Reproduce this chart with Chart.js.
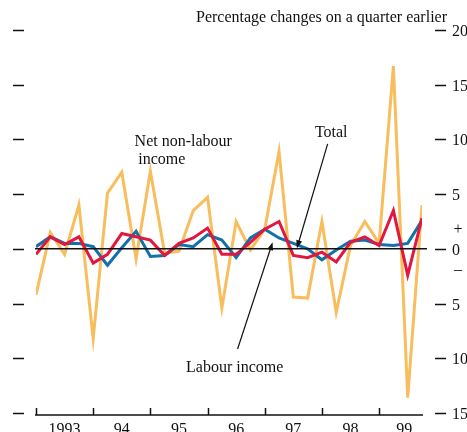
<!DOCTYPE html>
<html>
<head>
<meta charset="utf-8">
<title>Income growth</title>
<script src="https://cdn.jsdelivr.net/npm/chart.js@4.4.1/dist/chart.umd.min.js"></script>
<style>
	html, body { margin: 0; padding: 0; background: #fff; }
	#wrap { position: relative; width: 467px; height: 432px; }
</style>
</head>
<body>
<div id="wrap"><canvas id="chart"></canvas></div>
<script>
'use strict';

// quarterly, 1993 Q1 to 1999 Q4
const years = [ '1993', '94', '95', '96', '97', '98', '99' ];
const yTicks = [ 20, 15, 10, 5, 0, -5, -10, -15 ];

const nonLabour = [ -4.2, 1.5, -0.5, 4.0, -8.2, 5.1, 7.0, -0.9, 7.1, -0.4, -0.2, 3.5, 4.7, -5.4,
	2.5, -0.1, 1.8, 8.9, -4.4, -4.5, 2.5, -5.8, 0.3, 2.5, 0.5, 16.7, -13.6, 4.0 ];
const labour = [ 0.2, 1.1, 0.5, 0.5, 0.2, -1.5, 0.1, 1.6, -0.7, -0.6, 0.4, 0.2, 1.3, 0.8,
	-0.8, 1.0, 1.8, 1.0, 0.5, 0.0, -1.0, -0.1, 0.7, 0.8, 0.4, 0.3, 0.5, 2.6 ];
const total = [ -0.5, 1.1, 0.4, 1.1, -1.3, -0.5, 1.4, 1.1, 0.8, -0.6, 0.5, 1.0, 1.9, -0.5,
	-0.5, 0.6, 1.8, 2.5, -0.6, -0.8, -0.3, -1.2, 0.6, 1.1, 0.3, 3.5, -2.4, 2.8 ];

// text labels, placed in data units (quarter index, per cent)
const notes = [
	{ text: 'Net non-labour', x: 10.3, y: 9.75 },
	{ text: 'income', x: 8.8, y: 8.1 },
	{ text: 'Total', x: 20.65, y: 10.6 },
	{ text: 'Labour income', x: 13.9, y: -10.85 },
];
const arrows = [
	{ from: [ 20.4, 9.6 ], to: [ 18.25, 0.05 ] },
	{ from: [ 14.1, -9.15 ], to: [ 16.55, 0.6 ] },
];

const FONT = '16px "Liberation Serif", "DejaVu Serif", serif';

function points( values ) {
	return values.map( ( v, i ) => ( { x: i, y: v } ) );
}

const bulletinAxes = {
	id: 'bulletinAxes',
	afterDatasetsDraw: function ( chart ) {
		const ctx = chart.ctx;
		const xs = chart.scales.x;
		const ys = chart.scales.y;
		const area = chart.chartArea;
		const last = nonLabour.length - 1;

		ctx.save();
		ctx.strokeStyle = '#111';
		ctx.fillStyle = '#111';
		ctx.font = FONT;

		// zero line
		ctx.lineWidth = 1.5;
		ctx.beginPath();
		ctx.moveTo( area.left - 1, ys.getPixelForValue( 0 ) );
		ctx.lineTo( area.right + 5, ys.getPixelForValue( 0 ) );
		ctx.stroke();

		// y ticks both sides, labels on the right
		ctx.textAlign = 'left';
		ctx.textBaseline = 'middle';
		yTicks.forEach( ( v ) => {
			const py = Math.round( ys.getPixelForValue( v ) ) + 0.5;
			ctx.beginPath();
			ctx.moveTo( 13, py );
			ctx.lineTo( 24, py );
			ctx.moveTo( area.right + 13, py );
			ctx.lineTo( area.right + 24, py );
			ctx.stroke();
			ctx.fillText( String( Math.abs( v ) ), area.right + 30, py + 1 );
		} );
		ctx.textAlign = 'center';
		ctx.fillText( '+', area.right + 36, ys.getPixelForValue( 0 ) - 19 );
		ctx.fillText( '\u2013', area.right + 36, ys.getPixelForValue( 0 ) + 21 );

		// x axis line, year ticks and labels
		const base = ys.bottom + 2;
		ctx.beginPath();
		ctx.moveTo( xs.getPixelForValue( 0 ) - 1, base );
		ctx.lineTo( xs.getPixelForValue( last ) + 1, base );
		ctx.stroke();
		ctx.textBaseline = 'top';
		years.forEach( ( label, i ) => {
			const start = i * 4;
			const end = Math.min( start + 4, last + 0.5 );
			const px = Math.round( xs.getPixelForValue( start ) ) + 0.5;
			ctx.beginPath();
			ctx.moveTo( px, base );
			ctx.lineTo( px, base - 7 );
			ctx.stroke();
			ctx.fillText( label, xs.getPixelForValue( ( start + end ) / 2 ), base + 7 );
		} );

		// title
		ctx.textAlign = 'right';
		ctx.textBaseline = 'middle';
		ctx.fillText( 'Percentage changes on a quarter earlier', area.right + 25, 18 );

		// notes
		ctx.textAlign = 'center';
		notes.forEach( ( n ) => {
			ctx.fillText( n.text, xs.getPixelForValue( n.x ), ys.getPixelForValue( n.y ) );
		} );

		// arrows
		ctx.lineWidth = 1.2;
		arrows.forEach( ( a ) => {
			const x1 = xs.getPixelForValue( a.from[ 0 ] );
			const y1 = ys.getPixelForValue( a.from[ 1 ] );
			const x2 = xs.getPixelForValue( a.to[ 0 ] );
			const y2 = ys.getPixelForValue( a.to[ 1 ] );
			const ang = Math.atan2( y2 - y1, x2 - x1 );
			ctx.beginPath();
			ctx.moveTo( x1, y1 );
			ctx.lineTo( x2 - 5 * Math.cos( ang ), y2 - 5 * Math.sin( ang ) );
			ctx.stroke();
			ctx.beginPath();
			ctx.moveTo( x2, y2 );
			ctx.lineTo( x2 - 8 * Math.cos( ang ) + 3 * Math.sin( ang ), y2 - 8 * Math.sin( ang ) - 3 * Math.cos( ang ) );
			ctx.lineTo( x2 - 8 * Math.cos( ang ) - 3 * Math.sin( ang ), y2 - 8 * Math.sin( ang ) + 3 * Math.cos( ang ) );
			ctx.closePath();
			ctx.fill();
		} );

		ctx.restore();
	},
};

window.addEventListener( 'DOMContentLoaded', function () {
	const element = document.getElementById( 'chart' );

	element.chart = new Chart( element, {
		type: 'line',
		data: {
			datasets: [
				{
					label: 'Total',
					data: points( total ),
					borderColor: '#e2173f',
					borderWidth: 3,
					order: 1,
				},
				{
					label: 'Labour income',
					data: points( labour ),
					borderColor: '#1270ab',
					borderWidth: 3,
					order: 2,
				},
				{
					label: 'Net non-labour income',
					data: points( nonLabour ),
					borderColor: '#f8bd5c',
					borderWidth: 3,
					order: 3,
				},
			],
		},
		options: {
			responsive: true,
			maintainAspectRatio: false,
			animation: false,
			layout: {
				padding: { left: 36, right: 45, top: 30, bottom: 19 },
			},
			elements: {
				point: { radius: 0 },
				line: { tension: 0, borderJoinStyle: 'miter', borderCapStyle: 'butt' },
			},
			scales: {
				x: { type: 'linear', min: 0, max: nonLabour.length - 1, display: false },
				y: { type: 'linear', min: -15, max: 20, display: false },
			},
			plugins: {
				legend: { display: false },
				tooltip: { enabled: false },
			},
		},
		plugins: [ bulletinAxes ],
	} );
} );
</script>
</body>
</html>
